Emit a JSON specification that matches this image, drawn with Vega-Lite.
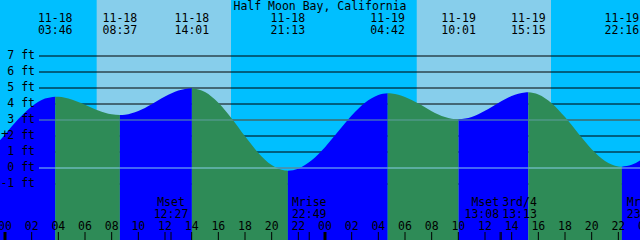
{
  "$schema": "https://vega.github.io/schema/vega-lite/v6.json",
  "width": 640,
  "height": 240,
  "autosize": {"type": "none"},
  "padding": 0,
  "background": "#00bfff",
  "config": {
    "view": {"stroke": null},
    "font": "DejaVu Sans Mono",
    "axis": {"disable": true},
    "text": {"font": "DejaVu Sans Mono", "fontSize": 11.5, "color": "black"}
  },
  "resolve": {"scale": {"color": "independent"}},
  "datasets": {
    "sky": [
      {"t": -1, "t2": 6.875, "kind": "night"},
      {"t": 6.875, "t2": 16.95, "kind": "day"},
      {"t": 16.95, "t2": 30.88, "kind": "night"},
      {"t": 30.88, "t2": 40.95, "kind": "day"},
      {"t": 40.95, "t2": 49, "kind": "night"}
    ],
    "grid": [
      {"ft": -1, "label": "-1 ft"}, {"ft": 0, "label": "0 ft"}, {"ft": 1, "label": "1 ft"}, {"ft": 2, "label": "2 ft"},
      {"ft": 3, "label": "3 ft"}, {"ft": 4, "label": "4 ft"}, {"ft": 5, "label": "5 ft"}, {"ft": 6, "label": "6 ft"}, {"ft": 7, "label": "7 ft"}
    ],
    "hours": [
      {"t": 0, "label": "00"}, {"t": 2, "label": "02"}, {"t": 4, "label": "04"}, {"t": 6, "label": "06"},
      {"t": 8, "label": "08"}, {"t": 10, "label": "10"}, {"t": 12, "label": "12"}, {"t": 14, "label": "14"},
      {"t": 16, "label": "16"}, {"t": 18, "label": "18"}, {"t": 20, "label": "20"}, {"t": 22, "label": "22"},
      {"t": 24, "label": "00"}, {"t": 26, "label": "02"}, {"t": 28, "label": "04"}, {"t": 30, "label": "06"},
      {"t": 32, "label": "08"}, {"t": 34, "label": "10"}, {"t": 36, "label": "12"}, {"t": 38, "label": "14"},
      {"t": 40, "label": "16"}, {"t": 42, "label": "18"}, {"t": 44, "label": "20"}, {"t": 46, "label": "22"},
      {"t": 48, "label": "00"}
    ],
    "tide": [
      {"t": -1, "ft": 1.135, "seg": "A", "phase": "flood"},
      {"t": 0, "ft": 2.097, "seg": "A", "phase": "flood"},
      {"t": 1, "ft": 3.056, "seg": "A", "phase": "flood"},
      {"t": 2, "ft": 3.849, "seg": "A", "phase": "flood"},
      {"t": 3, "ft": 4.34, "seg": "A", "phase": "flood"},
      {"t": 3.767, "ft": 4.46, "seg": "A", "phase": "flood"},
      {"t": 3.767, "ft": 4.46, "seg": "B", "phase": "ebb"},
      {"t": 4, "ft": 4.453, "seg": "B", "phase": "ebb"},
      {"t": 5, "ft": 4.286, "seg": "B", "phase": "ebb"},
      {"t": 6, "ft": 3.956, "seg": "B", "phase": "ebb"},
      {"t": 7, "ft": 3.598, "seg": "B", "phase": "ebb"},
      {"t": 8, "ft": 3.355, "seg": "B", "phase": "ebb"},
      {"t": 8.617, "ft": 3.31, "seg": "B", "phase": "ebb"},
      {"t": 8.617, "ft": 3.31, "seg": "C", "phase": "flood"},
      {"t": 9, "ft": 3.331, "seg": "C", "phase": "flood"},
      {"t": 10, "ft": 3.566, "seg": "C", "phase": "flood"},
      {"t": 11, "ft": 3.992, "seg": "C", "phase": "flood"},
      {"t": 12, "ft": 4.468, "seg": "C", "phase": "flood"},
      {"t": 13, "ft": 4.838, "seg": "C", "phase": "flood"},
      {"t": 13.5, "ft": 4.943, "seg": "C", "phase": "flood"},
      {"t": 14.017, "ft": 4.98, "seg": "C", "phase": "flood"},
      {"t": 14.017, "ft": 4.98, "seg": "D", "phase": "ebb"},
      {"t": 15, "ft": 4.747, "seg": "D", "phase": "ebb"},
      {"t": 16, "ft": 4.074, "seg": "D", "phase": "ebb"},
      {"t": 17, "ft": 3.09, "seg": "D", "phase": "ebb"},
      {"t": 18, "ft": 1.977, "seg": "D", "phase": "ebb"},
      {"t": 19, "ft": 0.944, "seg": "D", "phase": "ebb"},
      {"t": 20, "ft": 0.185, "seg": "D", "phase": "ebb"},
      {"t": 21, "ft": -0.159, "seg": "D", "phase": "ebb"},
      {"t": 21.217, "ft": -0.17, "seg": "D", "phase": "ebb"},
      {"t": 21.217, "ft": -0.17, "seg": "E", "phase": "flood"},
      {"t": 22, "ft": -0.041, "seg": "E", "phase": "flood"},
      {"t": 23, "ft": 0.477, "seg": "E", "phase": "flood"},
      {"t": 24, "ft": 1.302, "seg": "E", "phase": "flood"},
      {"t": 25, "ft": 2.292, "seg": "E", "phase": "flood"},
      {"t": 26, "ft": 3.275, "seg": "E", "phase": "flood"},
      {"t": 27, "ft": 4.079, "seg": "E", "phase": "flood"},
      {"t": 28, "ft": 4.566, "seg": "E", "phase": "flood"},
      {"t": 28.7, "ft": 4.67, "seg": "E", "phase": "flood"},
      {"t": 28.7, "ft": 4.67, "seg": "F", "phase": "ebb"},
      {"t": 29, "ft": 4.657, "seg": "F", "phase": "ebb"},
      {"t": 30, "ft": 4.441, "seg": "F", "phase": "ebb"},
      {"t": 31, "ft": 4.026, "seg": "F", "phase": "ebb"},
      {"t": 32, "ft": 3.554, "seg": "F", "phase": "ebb"},
      {"t": 33, "ft": 3.183, "seg": "F", "phase": "ebb"},
      {"t": 33.5, "ft": 3.078, "seg": "F", "phase": "ebb"},
      {"t": 34.017, "ft": 3.04, "seg": "F", "phase": "ebb"},
      {"t": 34.017, "ft": 3.04, "seg": "G", "phase": "flood"},
      {"t": 35, "ft": 3.183, "seg": "G", "phase": "flood"},
      {"t": 36, "ft": 3.571, "seg": "G", "phase": "flood"},
      {"t": 37, "ft": 4.069, "seg": "G", "phase": "flood"},
      {"t": 38, "ft": 4.503, "seg": "G", "phase": "flood"},
      {"t": 39, "ft": 4.721, "seg": "G", "phase": "flood"},
      {"t": 39.25, "ft": 4.73, "seg": "G", "phase": "flood"},
      {"t": 39.25, "ft": 4.73, "seg": "H", "phase": "ebb"},
      {"t": 40, "ft": 4.6, "seg": "H", "phase": "ebb"},
      {"t": 41, "ft": 4.052, "seg": "H", "phase": "ebb"},
      {"t": 42, "ft": 3.18, "seg": "H", "phase": "ebb"},
      {"t": 43, "ft": 2.154, "seg": "H", "phase": "ebb"},
      {"t": 44, "ft": 1.178, "seg": "H", "phase": "ebb"},
      {"t": 45, "ft": 0.444, "seg": "H", "phase": "ebb"},
      {"t": 46, "ft": 0.097, "seg": "H", "phase": "ebb"},
      {"t": 46.267, "ft": 0.08, "seg": "H", "phase": "ebb"},
      {"t": 46.267, "ft": 0.08, "seg": "I", "phase": "flood"},
      {"t": 47, "ft": 0.196, "seg": "I", "phase": "flood"},
      {"t": 48, "ft": 0.702, "seg": "I", "phase": "flood"},
      {"t": 49, "ft": 1.522, "seg": "I", "phase": "flood"}
    ],
    "extremes": [
      {"t": 3.767, "label": "11-18\n03:46"},
      {"t": 8.617, "label": "11-18\n08:37"},
      {"t": 14.017, "label": "11-18\n14:01"},
      {"t": 21.217, "label": "11-18\n21:13"},
      {"t": 28.7, "label": "11-19\n04:42"},
      {"t": 34.017, "label": "11-19\n10:01"},
      {"t": 39.25, "label": "11-19\n15:15"},
      {"t": 46.267, "label": "11-19\n22:16"}
    ],
    "moon": [
      {"t": 12.45, "label": "Mset\n12:27", "side": "center"},
      {"t": 22.817, "label": "Mrise\n22:49", "side": "center"},
      {"t": 37.133, "label": "Mset\n13:08", "side": "right"},
      {"t": 37.217, "label": "3rd/4\n13:13", "side": "left"},
      {"t": 47.933, "label": "Mrise\n23:56", "side": "center"}
    ]
  },
  "layer": [
    {
      "data": {"name": "sky"},
      "mark": {"type": "rect", "clip": true},
      "encoding": {
        "x": {"field": "t", "type": "quantitative", "scale": {"domain": [-0.375, 47.625], "nice": false, "zero": false}},
        "x2": {"field": "t2"},
        "y": {"datum": 10.5, "type": "quantitative", "scale": {"domain": [-4.5, 10.5], "nice": false, "zero": false}},
        "y2": {"datum": -4.5},
        "color": {"field": "kind", "type": "nominal", "scale": {"domain": ["day", "night"], "range": ["#87ceeb", "#00bfff"]}, "legend": null}
      }
    },
    {
      "data": {"name": "grid"},
      "mark": {"type": "rule", "color": "black", "strokeWidth": 1, "clip": true},
      "encoding": {
        "x": {"datum": 2.55, "type": "quantitative"},
        "x2": {"datum": 49},
        "y": {"field": "ft", "type": "quantitative"}
      }
    },
    {
      "data": {"name": "tide"},
      "mark": {"type": "area", "interpolate": "monotone", "clip": true},
      "encoding": {
        "x": {"field": "t", "type": "quantitative"},
        "y": {"field": "ft", "type": "quantitative", "stack": null},
        "y2": {"datum": -4.5},
        "color": {"field": "phase", "type": "nominal", "scale": {"domain": ["flood", "ebb"], "range": ["#0000ff", "#2e8b57"]}, "legend": null},
        "detail": {"field": "seg"}
      }
    },
    {
      "data": {"name": "grid"},
      "transform": [{"filter": "datum.ft === 3"}],
      "mark": {"type": "rule", "color": "#5f9ea0", "strokeWidth": 1, "clip": true},
      "encoding": {
        "x": {"datum": 2.55, "type": "quantitative"},
        "x2": {"datum": 49},
        "y": {"field": "ft", "type": "quantitative"}
      }
    },
    {
      "data": {"name": "grid"},
      "transform": [{"filter": "datum.ft === 0"}],
      "mark": {"type": "rule", "color": "#87ceeb", "strokeWidth": 1, "clip": true},
      "encoding": {
        "x": {"datum": 2.55, "type": "quantitative"},
        "x2": {"datum": 49},
        "y": {"field": "ft", "type": "quantitative"}
      }
    },
    {
      "data": {"name": "grid"},
      "mark": {"type": "text", "align": "right", "baseline": "middle"},
      "encoding": {
        "x": {"datum": 2.25, "type": "quantitative"},
        "y": {"field": "ft", "type": "quantitative"},
        "text": {"field": "label"}
      }
    },
    {
      "data": {"name": "hours"},
      "mark": {"type": "rule", "color": "black", "strokeWidth": 1, "clip": true},
      "encoding": {
        "x": {"field": "t", "type": "quantitative"},
        "y": {"datum": -4.5, "type": "quantitative"},
        "y2": {"datum": -4.0}
      }
    },
    {
      "data": {"name": "hours"},
      "transform": [{"filter": "datum.t % 24 === 0"}],
      "mark": {"type": "rule", "color": "black", "strokeWidth": 3, "clip": true},
      "encoding": {
        "x": {"field": "t", "type": "quantitative"},
        "y": {"datum": -4.5, "type": "quantitative"},
        "y2": {"datum": -4.0}
      }
    },
    {
      "data": {"name": "hours"},
      "mark": {"type": "text", "baseline": "alphabetic", "align": "center", "dy": -10},
      "encoding": {
        "x": {"field": "t", "type": "quantitative"},
        "y": {"datum": -4.5, "type": "quantitative"},
        "text": {"field": "label"}
      }
    },
    {
      "data": {"name": "moon"},
      "mark": {"type": "rule", "color": "black", "strokeWidth": 1, "clip": true},
      "encoding": {
        "x": {"field": "t", "type": "quantitative"},
        "y": {"datum": -4.5, "type": "quantitative"},
        "y2": {"datum": -4.0}
      }
    },
    {
      "data": {"values": [{"t": 23.625, "label": "Half Moon Bay, California"}]},
      "mark": {"type": "text", "baseline": "alphabetic", "align": "center", "dy": 10},
      "encoding": {
        "x": {"field": "t", "type": "quantitative"},
        "y": {"datum": 10.5, "type": "quantitative"},
        "text": {"field": "label"}
      }
    },
    {
      "data": {"name": "extremes"},
      "mark": {"type": "text", "baseline": "alphabetic", "align": "center", "dy": 22, "lineBreak": "\n", "lineHeight": 11.7},
      "encoding": {
        "x": {"field": "t", "type": "quantitative"},
        "y": {"datum": 10.5, "type": "quantitative"},
        "text": {"field": "label"}
      }
    },
    {
      "data": {"name": "moon"},
      "transform": [{"filter": "datum.side === 'center'"}],
      "mark": {"type": "text", "baseline": "alphabetic", "align": "center", "dy": -34, "lineBreak": "\n", "lineHeight": 11.5},
      "encoding": {
        "x": {"field": "t", "type": "quantitative"},
        "y": {"datum": -4.5, "type": "quantitative"},
        "text": {"field": "label"}
      }
    },
    {
      "data": {"name": "moon"},
      "transform": [{"filter": "datum.side === 'right'"}],
      "mark": {"type": "text", "baseline": "alphabetic", "align": "right", "dx": -1, "dy": -34, "lineBreak": "\n", "lineHeight": 11.5},
      "encoding": {
        "x": {"field": "t", "type": "quantitative"},
        "y": {"datum": -4.5, "type": "quantitative"},
        "text": {"field": "label"}
      }
    },
    {
      "data": {"name": "moon"},
      "transform": [{"filter": "datum.side === 'left'"}],
      "mark": {"type": "text", "baseline": "alphabetic", "align": "left", "dx": 1, "dy": -34, "lineBreak": "\n", "lineHeight": 11.5},
      "encoding": {
        "x": {"field": "t", "type": "quantitative"},
        "y": {"datum": -4.5, "type": "quantitative"},
        "text": {"field": "label"}
      }
    },
    {
      "data": {"values": [{"t": 0, "ft": 2.125, "label": "+"}]},
      "mark": {"type": "text", "baseline": "middle", "align": "center", "fontSize": 13},
      "encoding": {
        "x": {"field": "t", "type": "quantitative"},
        "y": {"field": "ft", "type": "quantitative"},
        "text": {"field": "label"}
      }
    }
  ]
}
